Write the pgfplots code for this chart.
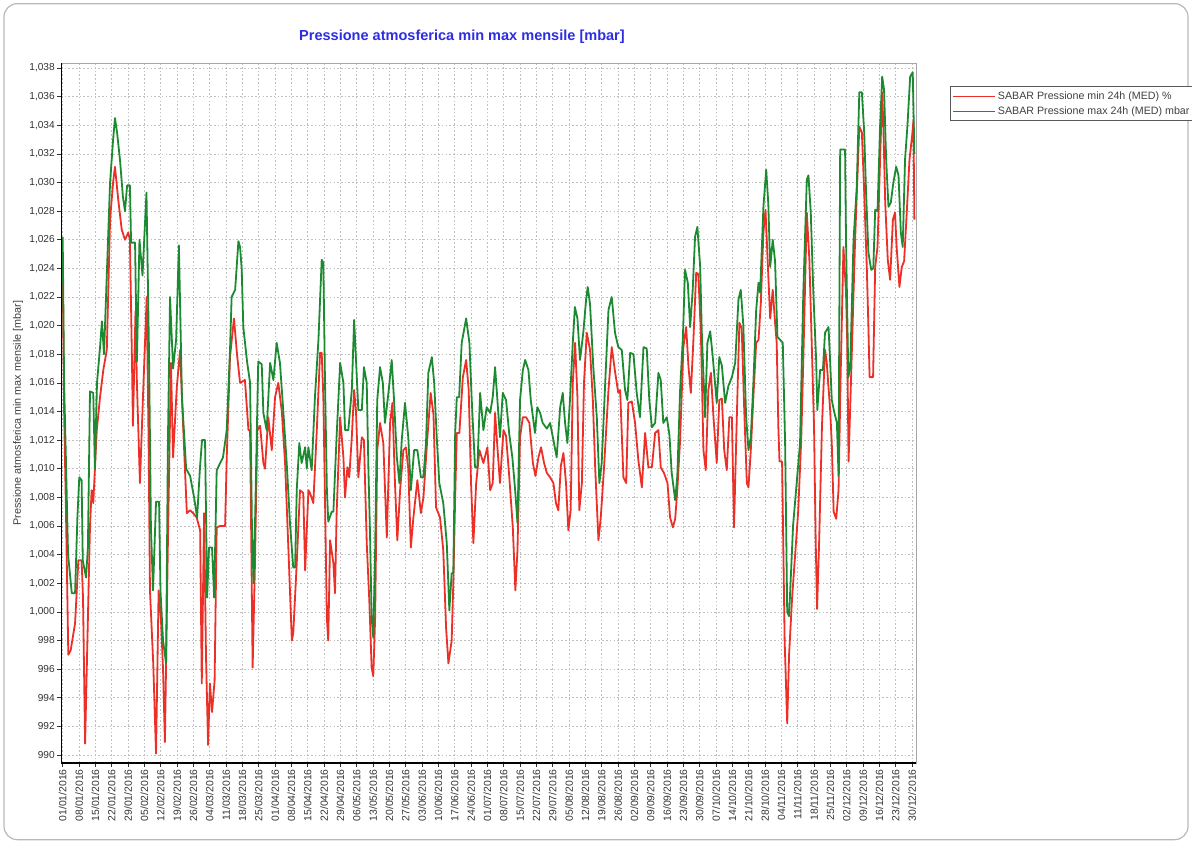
\documentclass[border=0pt]{standalone}
\usepackage{pgfplots}
\pgfplotsset{compat=1.18}
\usepackage{fontspec}
\setmainfont{Liberation Sans}
\definecolor{sred}{RGB}{236,48,40}
\definecolor{sgreen}{RGB}{28,138,48}
\definecolor{titleblue}{RGB}{45,45,225}

\pgfplotstableread{
d v
0.0 1024.1
0.6 1014
1.4 1007
2.4 997
3.4 997.3
5.3 999.2
6.7 1003.6
8.1 1003.6
8.7 1001
9.6 990.8
11.0 1001
11.7 1006
12.4 1008.5
13.1 1007.6
14.6 1012.7
16.0 1015
17.4 1016.9
18.9 1018.3
20.3 1027.4
21.6 1030
22.4 1031.1
23.8 1028.8
25.3 1026.7
26.7 1026
28.1 1026.5
28.8 1026
29.7 1017.4
30.1 1013
31.2 1021
31.8 1016
33.1 1009
34.4 1015
36.0 1022
36.8 1012
37.4 1001.5
38.8 996.4
40.0 990.1
41.1 1001.5
42.1 999.5
43.0 996
43.8 990.9
45.1 1005
46.4 1017.4
47.3 1010.8
48.9 1015.7
50.3 1018.3
51.6 1013
53.2 1006.9
54.6 1007.1
55.9 1006.9
57.4 1006.6
58.9 1005.7
59.6 995
60.6 1006.9
61.4 997
62.3 990.7
63.1 995
64.0 993
65.1 995.2
66.0 1005.9
67.4 1006
69.6 1006
70.3 1010.8
71.7 1017.8
73.4 1020.5
74.7 1018
76.0 1016
78.1 1016.2
79.6 1012.7
80.3 1012.7
81.4 996.1
82.4 1003.4
83.4 1012.7
84.6 1013
86.0 1010.4
86.7 1010
88.1 1013.6
89.6 1011.3
91.0 1015
92.4 1016
93.9 1014
95.3 1010.4
96.7 1004.5
98.2 998
98.8 998.5
100.3 1003.4
101.7 1008.5
103.1 1008.3
103.9 1002.9
105.3 1008.5
106.0 1008.3
107.4 1007.6
108.9 1012.7
110.3 1018.1
111.0 1018.1
111.7 1015
112.4 1008
113.2 999.6
113.8 998
114.6 1005
116.0 1003.4
116.7 1001.3
117.4 1006.9
118.9 1013.6
120.3 1010.8
121.0 1008
122.0 1010.1
122.8 1009.4
123.9 1012.2
124.9 1015.5
125.7 1014
126.7 1009.4
128.2 1012.2
129.1 1012
130.3 1004.8
131.4 1000.8
132.4 996.1
133.1 995.5
133.9 999.6
134.8 1011.3
136.0 1013.2
137.4 1011.8
138.9 1005.2
140.3 1013.2
141.3 1014.6
142.4 1009
143.4 1005
144.6 1008.5
146.0 1011.3
147.1 1011.5
148.1 1010
149.2 1004.5
150.3 1006.6
152.0 1009.2
153.5 1006.9
154.6 1008
156.3 1012.2
157.7 1015.3
158.9 1013.8
160.0 1007.3
161.7 1006.6
163.1 1004.3
164.3 998.9
165.3 996.4
166.7 998
167.4 1002
168.2 1008
168.9 1012.5
170.0 1012.5
171.5 1016.4
172.9 1017.6
174.0 1015.5
175.0 1009
176.0 1004.8
177.2 1009
178.6 1011.3
180.3 1010.4
182.0 1011.5
183.2 1008.5
184.3 1009
185.3 1013.9
186.3 1011.5
187.4 1009
188.9 1012.7
190.0 1012.3
191.4 1009.4
192.9 1005.9
194.0 1001.5
194.9 1004.3
196.0 1012.2
197.2 1013.6
198.6 1013.6
200.0 1013.2
201.5 1010.4
202.6 1009.5
203.9 1010.8
205.0 1011.5
206.3 1010.4
207.5 1009.7
208.9 1009.4
210.3 1009
211.4 1007.6
212.4 1007.1
213.5 1010.2
214.6 1011.1
215.7 1009
216.7 1005.7
217.7 1007.1
218.6 1016
219.6 1018.8
220.6 1015
221.4 1007.1
222.5 1009
223.4 1016
224.6 1019.5
226.0 1018.3
227.2 1014.8
228.2 1010.1
229.6 1005
230.6 1006.6
232.0 1010.1
233.9 1015.5
235.3 1018.5
236.7 1016.8
238.1 1015.3
238.9 1015.5
240.3 1009.4
241.5 1009
242.4 1014.6
243.9 1014.7
245.3 1013.2
246.7 1010.6
248.2 1008.7
249.6 1012.5
251.0 1010.1
252.5 1010.1
253.9 1012.5
255.3 1012.7
256.3 1010.1
257.7 1009.7
259.2 1009
260.3 1006.6
261.5 1005.9
262.5 1006.5
263.4 1008.5
264.6 1012
266.0 1018.5
267.2 1019.9
268.2 1017.1
269.2 1015.3
270.3 1019
271.5 1023.7
272.4 1023.6
273.5 1019.5
274.6 1011.3
275.6 1009.9
276.7 1015.5
277.8 1016.7
278.9 1013.6
280.3 1010.4
281.4 1014.8
282.5 1014.9
283.5 1011.3
284.6 1009.9
285.7 1013.6
286.8 1013.6
287.7 1005.9
288.9 1013.6
290.0 1020.2
291.0 1019.8
292.0 1014.5
293.2 1009
293.9 1008.7
294.9 1011.3
296.0 1015
297.2 1018.8
298.2 1019
299.2 1021.6
300.3 1026.5
301.2 1028.1
302.0 1025
303.2 1020.5
304.3 1022.5
305.3 1020.2
306.0 1018.8
306.7 1012.9
307.2 1010.5
308.3 1010.5
309.4 998
310.5 992.2
311.3 997
312.6 1001
313.9 1004
315.2 1007
316.5 1012
317.4 1017.6
318.9 1027.9
320.0 1024.6
321.0 1018.8
322.0 1012.9
322.7 1005
323.3 1000.2
324.2 1005
325.4 1013
326.7 1018.3
327.4 1017.5
328.9 1014.1
329.6 1011.8
330.4 1007
331.5 1006.5
332.5 1008.5
333.4 1016.5
334.6 1025.5
335.7 1022.3
336.2 1019
336.8 1010.5
337.9 1016.5
339.6 1026
341.4 1033.9
342.5 1033.5
343.5 1029.3
344.6 1024.1
345.3 1019.9
345.8 1016.4
347.3 1016.4
348.2 1024.1
349.2 1025.5
350.3 1031.6
351.2 1036.3
351.7 1034
352.5 1028.6
353.6 1024.6
354.6 1023.2
355.8 1027.4
356.7 1027.9
357.4 1025.5
358.6 1022.7
359.6 1024.1
360.6 1024.5
361.8 1028.1
362.9 1031.6
364.0 1033.2
364.6 1034.3
365.0 1027.4
}\redtable

\pgfplotstableread{
d v
0.0 1026.2
0.6 1016
1.4 1010.5
2.3 1004
3.9 1001.3
5.3 1001.3
6.3 1006.6
7.1 1009.4
8.1 1009.2
8.6 1003.6
10.0 1002.4
10.8 1004.5
11.7 1015.4
13.1 1015.3
13.8 1010
14.7 1016
16.0 1018.5
16.8 1020.3
17.7 1018
19.0 1024
20.3 1030
21.6 1033
22.4 1034.5
23.3 1033.5
24.6 1031.5
25.8 1029
26.7 1028
27.6 1029.8
28.8 1029.8
29.3 1025.8
31.0 1025.8
31.8 1017.5
32.9 1026
34.2 1023.5
35.9 1029.3
37.0 1018
37.8 1006
38.7 1001.5
40.0 1007.7
41.3 1007.7
41.9 1001.5
43.0 998
44.3 996.4
45.1 1012
46.0 1022
47.3 1017
48.6 1019
49.8 1025.6
51.1 1015
52.9 1010
54.6 1009.5
56.3 1008
57.6 1006.6
58.8 1010
59.7 1012
61.0 1012
61.9 1001
62.7 1004.5
64.0 1004.5
64.9 1001
66.0 1009.9
68.7 1010.8
70.3 1012.7
71.7 1018.3
72.4 1022
73.9 1022.5
75.3 1025.9
76.0 1025.5
76.7 1024
77.4 1019.9
79.0 1017.5
80.3 1016
81.1 1006
81.8 1002
82.4 1006
83.8 1017.5
85.3 1017.3
86.0 1013.9
87.4 1012.7
88.9 1017.4
90.3 1016.2
91.7 1018.8
93.1 1017.4
94.6 1013.9
96.0 1010.4
97.4 1006.2
98.8 1003.1
99.6 1003.1
100.3 1008.5
101.4 1011.8
102.4 1010.4
103.9 1011.5
104.6 1010
105.3 1011.5
106.7 1009.9
108.1 1015
109.6 1019
111.0 1024.6
111.7 1024.4
112.4 1016.2
113.2 1008.7
113.8 1006.3
115.3 1007
116.0 1007
117.4 1012.3
118.9 1017.4
120.3 1016
121.0 1012.7
122.4 1012.7
123.9 1015.5
124.9 1020.4
125.7 1017.6
126.7 1014.1
128.2 1014.1
129.1 1017.1
130.3 1016
131.0 1010.1
131.7 1005.5
132.4 999.6
133.1 998.2
133.9 1004.3
134.8 1014.8
136.0 1017.1
137.2 1016
138.1 1013.2
139.6 1015.3
141.0 1017.6
142.0 1014.8
143.2 1010.8
144.3 1009
145.3 1012
146.7 1014.6
148.1 1012.2
149.2 1008.5
150.6 1011.3
152.0 1011.3
153.5 1009.4
154.6 1009.4
155.7 1011.8
156.7 1016.7
158.2 1017.8
159.2 1016
160.3 1012.2
161.4 1009
163.1 1007.6
164.6 1004.8
165.7 1000.1
166.7 1002.7
167.4 1002.7
168.2 1012.5
168.9 1015
169.9 1015
171.0 1018.8
172.9 1020.5
174.3 1018.8
175.3 1014.8
176.7 1010.1
177.7 1010.1
178.9 1015.3
180.3 1012.7
181.7 1014.3
183.2 1013.9
184.3 1015
185.3 1017.1
186.3 1014.8
187.4 1012.2
188.6 1015.3
190.0 1014.8
191.4 1012.4
192.7 1010.8
193.9 1008.5
194.9 1006.2
196.0 1014.8
197.2 1016.9
198.2 1017.6
199.6 1016.9
200.6 1014.8
202.4 1012.5
203.4 1014.3
204.6 1013.9
205.7 1013.2
207.5 1012.8
208.9 1013.2
210.3 1012
211.7 1010.8
213.2 1014.3
214.3 1015.3
215.3 1013.2
216.3 1011.8
217.4 1014.8
218.6 1018.8
219.5 1021.3
220.6 1020.5
221.7 1017.6
223.1 1019.5
224.3 1021.8
225.0 1022.7
226.0 1021.5
227.4 1017.1
228.9 1013.6
230.0 1009
231.0 1010.4
232.5 1016
233.9 1021.1
235.3 1022
236.7 1019.5
238.1 1018.5
239.6 1018.3
241.0 1015.5
242.0 1014.8
243.2 1018.1
244.6 1018
246.0 1015.3
247.4 1013.6
248.9 1018.5
250.3 1018.4
251.4 1014.8
252.5 1012.9
253.9 1013.2
255.3 1016.7
256.3 1016.2
257.4 1013.2
258.9 1013.6
260.0 1012.4
261.0 1009.7
262.5 1007.8
263.4 1009.5
264.6 1015.5
265.8 1019.2
266.7 1023.9
267.9 1023
268.9 1019.9
270.0 1022.5
271.0 1026.2
272.0 1026.9
273.2 1024.1
273.9 1019.5
275.3 1013.6
276.3 1018.8
277.5 1019.6
278.6 1017.8
280.3 1014.6
281.4 1017.8
282.5 1017.2
283.9 1014.6
285.3 1015.8
286.8 1016.4
288.2 1017.4
289.6 1021.8
290.6 1022.5
291.7 1020
292.9 1013.6
293.9 1011.3
294.9 1012.2
296.0 1016
297.2 1021.1
298.2 1023
298.9 1022.3
300.3 1028.3
301.5 1030.9
302.4 1028.5
303.2 1024.1
304.3 1026
305.3 1024.5
306.3 1019.2
307.5 1019
308.6 1018.8
309.6 1011.8
310.5 1000
311.3 999.7
312.2 1003
313.0 1006
314.3 1008.5
316.0 1011.8
317.4 1022.3
318.9 1030.2
319.6 1030.5
320.6 1027.9
321.7 1022.3
322.9 1017.6
323.4 1014.1
324.6 1016.9
325.8 1016.9
326.7 1019.5
328.2 1019.9
328.9 1017.5
329.6 1014.8
330.6 1014
331.8 1013.2
332.5 1009.5
333.2 1032.3
335.3 1032.3
335.7 1026
336.7 1016.4
337.5 1017
338.9 1025.9
340.3 1029.7
341.4 1036.3
342.5 1036.3
343.5 1033.5
344.3 1029.3
345.3 1025.1
346.5 1023.9
347.4 1024
348.2 1028.1
349.2 1028
350.3 1033.9
351.2 1037.4
352.0 1036.5
352.9 1031.6
353.9 1028.3
354.9 1028.6
356.0 1030
357.2 1031.1
358.2 1030.5
359.2 1026.5
360.0 1025.5
361.0 1031.6
362.0 1033.9
363.2 1037.4
364.3 1037.7
365.0 1032
}\greentable

\begin{document}
\begin{tikzpicture}
\path[use as bounding box] (0,0) rectangle (894pt,632.25pt);
\draw[gray!55, line width=0.9pt, rounded corners=10pt] (3pt,2.5pt) rectangle (891pt,629.5pt);
\begin{axis}[
  at={(45.75pt,60pt)}, anchor=south west,
  width=641.25pt, height=525pt, scale only axis,
  xmin=-0.73, xmax=365.7, ymin=989.44, ymax=1038.35,
  xtick={0,7,...,364},
  xticklabels={01/01/2016,08/01/2016,15/01/2016,22/01/2016,29/01/2016,05/02/2016,12/02/2016,19/02/2016,26/02/2016,04/03/2016,11/03/2016,18/03/2016,25/03/2016,01/04/2016,08/04/2016,15/04/2016,22/04/2016,29/04/2016,06/05/2016,13/05/2016,20/05/2016,27/05/2016,03/06/2016,10/06/2016,17/06/2016,24/06/2016,01/07/2016,08/07/2016,15/07/2016,22/07/2016,29/07/2016,05/08/2016,12/08/2016,19/08/2016,26/08/2016,02/09/2016,09/09/2016,16/09/2016,23/09/2016,30/09/2016,07/10/2016,14/10/2016,21/10/2016,28/10/2016,04/11/2016,11/11/2016,18/11/2016,25/11/2016,02/12/2016,09/12/2016,16/12/2016,23/12/2016,30/12/2016},
  ytick={990,992,...,1038},
  /pgf/number format/assume math mode=true,
  x tick label style={rotate=90, anchor=east, font=\fontsize{7.8}{8}\selectfont, text=black!80, inner sep=1.5pt},
  y tick label style={font=\fontsize{7.6}{8}\selectfont, text=black!80, inner sep=1.5pt},
  tick align=outside, tick pos=left, major tick length=3pt,
  tick style={black!80, line width=0.5pt},
  grid=major,
  grid style={gray!50, line width=0.4pt, dash pattern=on 1.2pt off 1.6pt},
  axis line style={gray!70, line width=0.6pt},
  title={Pressione atmosferica min max mensile [mbar]},
  title style={at={(0.469,1.0257)}, anchor=center, yshift=0pt, font=\bfseries\fontsize{10.9}{12}\selectfont, text=titleblue},
  ylabel={Pressione atmosferica min max mensile [mbar]},
  ylabel style={at={(-0.0503,0.5)}, anchor=center, font=\fontsize{8.1}{9}\selectfont, text=black!75},
  legend style={at={(1.0398,0.967)}, anchor=north west, draw=gray!70!black, line width=0.9pt, font=\fontsize{8}{9}\selectfont, inner sep=1.5pt, row sep=0pt, cells={anchor=west}, fill=white, text=black!75},
  legend image code/.code={\draw[#1, line width=1pt] (0pt,0pt) -- (31pt,0pt);},
]
\addplot[sred, line width=1.35pt, line join=round] table[x=d, y=v] {\redtable};
\addlegendentry{SABAR Pressione min 24h (MED) \%}
\addplot[sgreen, line width=1.35pt, line join=round] table[x=d, y=v] {\greentable};
\addlegendentry{SABAR Pressione max 24h (MED) mbar}
\draw[black, line width=1.3pt] (rel axis cs:0,1) -- (rel axis cs:0,0) -- (rel axis cs:1,0);
\end{axis}
\end{tikzpicture}
\end{document}
